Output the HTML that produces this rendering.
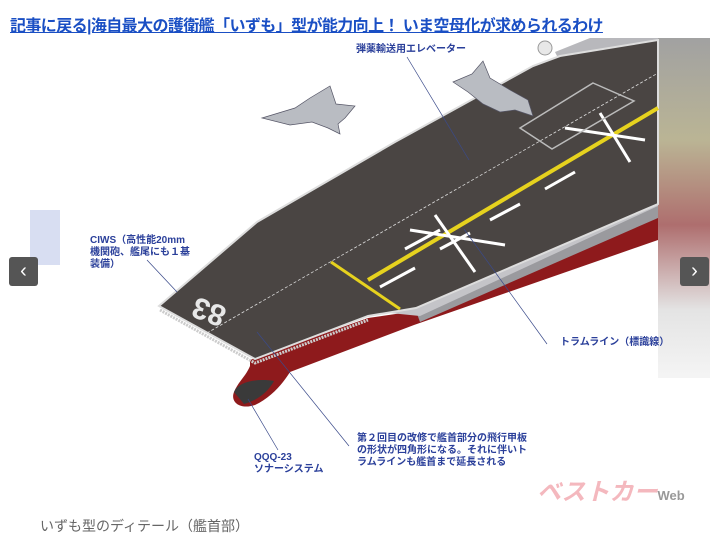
<!DOCTYPE html>
<html><head><meta charset="utf-8"><style>
html,body{margin:0;padding:0;background:#fff;width:721px;height:545px;overflow:hidden;font-family:"Liberation Sans","Noto Sans CJK JP",sans-serif}
.t{position:absolute;left:10px;top:12px;font-size:16px;font-weight:bold;color:#1a4fc4;text-decoration:underline;letter-spacing:-0.6px;white-space:nowrap}
.lb{position:absolute;font-size:10px;font-weight:bold;color:#2a3f9a;line-height:12px;white-space:nowrap}
.btn{position:absolute;top:257px;width:29px;height:29px;background:#555;border-radius:3px;color:#fff;font-size:20px;line-height:28px;text-align:center}
.cap{position:absolute;left:40px;top:516px;font-size:14px;color:#666}
</style></head><body>
<svg width="721" height="545" style="position:absolute;left:0;top:0">
<defs><linearGradient id="rs" x1="0" y1="0" x2="0" y2="1"><stop offset="0" stop-color="#8a8a8a"/><stop offset="0.3" stop-color="#a9a27a"/><stop offset="0.55" stop-color="#9a4a4a"/><stop offset="0.8" stop-color="#ddd"/><stop offset="1" stop-color="#f2f2f2"/></linearGradient></defs>
<rect x="658" y="38" width="52" height="340" fill="url(#rs)" opacity="0.8"/>
<rect x="30" y="210" width="30" height="55" fill="#c8d0ec" opacity="0.7"/>
<!-- red hull -->
<path d="M250,360 L368,318 L416,311 L658,210 L658,240 L414,325 L290,372 C282,385 270,398 255,405 C240,410 230,402 234,392 C238,382 246,376 250,366 Z" fill="#8e1a1c"/>
<path d="M234,392 C238,382 256,378 274,381 C268,392 258,400 244,404 Z" fill="#3a3a3a"/>
<!-- gray side -->
<path d="M416,311 L658,200 L658,218 L420,322 Z" fill="#9a9a9e"/>
<path d="M380,312 L416,306 L658,196 L658,206 L420,316 Z" fill="#c4c4c8"/>
<!-- superstructure -->
<path d="M555,52 L590,38 L658,38 L658,50 L590,62 L560,62 Z" fill="#b8b8bc"/>
<circle cx="545" cy="48" r="7" fill="#e8e8e8" stroke="#999"/>
<!-- deck -->
<path d="M159,306 L257,222 L395,142 L455,109 L533,66 L560,56 L658,40 L658,204 L416,308 L368,316 L255,359 Z" fill="#4a4543" stroke="#ddd" stroke-width="2"/>
<path d="M160,310 L255,363 L368,320" fill="none" stroke="#ccc" stroke-width="3" stroke-dasharray="2,1"/>
<line x1="207" y1="333" x2="658" y2="73" stroke="#ddd" stroke-width="0.8" stroke-dasharray="3,2"/>
<line x1="331" y1="262" x2="400" y2="309" stroke="#e6d21e" stroke-width="3"/>
<line x1="368" y1="280" x2="658" y2="108" stroke="#e6d21e" stroke-width="4"/>
<g stroke="#fff" stroke-width="3">
<line x1="380" y1="287" x2="415" y2="268"/><line x1="440" y1="249" x2="470" y2="233"/><line x1="490" y1="220" x2="520" y2="204"/><line x1="545" y1="189" x2="575" y2="172"/>
<line x1="410" y1="230" x2="505" y2="245"/><line x1="435" y1="215" x2="475" y2="272"/><line x1="405" y1="249" x2="440" y2="230"/>
<line x1="565" y1="128" x2="645" y2="140"/><line x1="600" y1="113" x2="630" y2="162"/>
</g>
<path d="M593,83 L634,101 L552,149 L520,128 Z" fill="none" stroke="#bbb" stroke-width="1.5"/>
<text x="0" y="0" transform="translate(228,308) rotate(200)" font-size="30" font-weight="bold" fill="#e8e8e8" font-family="Liberation Sans">83</text>
<!-- jets -->
<path d="M262,118 L295,108 L310,98 L330,86 L336,104 L355,106 L345,118 L338,124 L340,134 L328,128 L312,122 L290,125 Z" fill="#b9bcc2" stroke="#556" stroke-width="0.7"/>
<path d="M453,82 L472,74 L483,61 L490,78 L510,90 L528,100 L533,116 L515,110 L500,112 L483,104 L468,92 Z" fill="#b9bcc2" stroke="#556" stroke-width="0.7"/>
<!-- leaders -->
<g stroke="#3a4a8a" stroke-width="0.7">
<line x1="407" y1="57" x2="469" y2="160"/><line x1="147" y1="260" x2="177" y2="292"/><line x1="464" y1="229" x2="547" y2="344"/>
<line x1="248" y1="399" x2="278" y2="450"/><line x1="257" y1="332" x2="349" y2="446"/>
</g>
</svg>
<div class="t">記事に戻る|海自最大の護衛艦「いずも」型が能力向上！ いま空母化が求められるわけ</div>
<div class="lb" style="left:356px;top:44px">弾薬輸送用エレベーター</div>
<div class="lb" style="left:90px;top:235px">CIWS（高性能20mm<br>機関砲、艦尾にも１基<br>装備）</div>
<div class="lb" style="left:560px;top:337px">トラムライン（標識線）</div>
<div class="lb" style="left:254px;top:452px">QQQ-23<br>ソナーシステム</div>
<div class="lb" style="left:357px;top:433px">第２回目の改修で艦首部分の飛行甲板<br>の形状が四角形になる。それに伴いト<br>ラムラインも艦首まで延長される</div>
<div style="position:absolute;left:537px;top:472px;font-size:24px;font-weight:bold;font-style:italic;color:#f4b8be;white-space:nowrap">ベストカー<span style="font-size:13px;color:#999;font-style:normal">Web</span></div>
<div class="btn" style="left:9px">‹</div>
<div class="btn" style="left:680px">›</div>
<div class="cap">いずも型のディテール（艦首部）</div>
</body></html>
